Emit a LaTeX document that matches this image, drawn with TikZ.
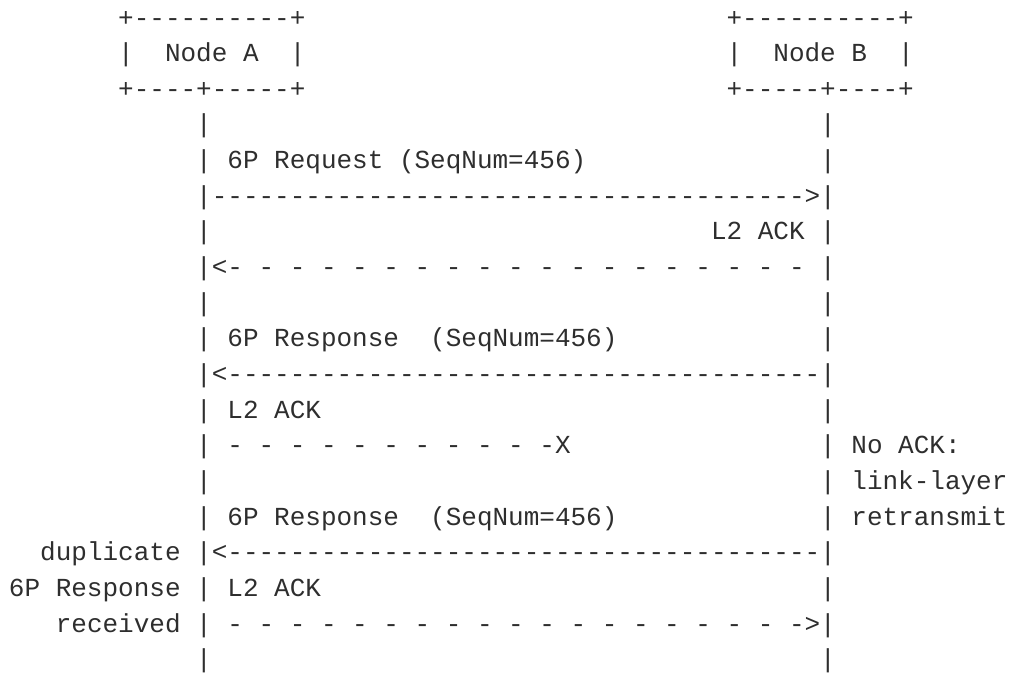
\documentclass[tikz,border=0pt]{standalone}
\usepackage{fontspec}
\newfontfamily\asciifont{Liberation Mono}
\begin{document}
\frenchspacing
\begin{tikzpicture}[x=1pt,y=1pt]
\tikzset{ascii/.style={anchor=base west, inner sep=0pt, outer sep=0pt,
  font=\asciifont\fontsize{26}{26}\selectfont, text=black!82}}
\newcommand\asciiseg[4]{\node[ascii] (#1) at ({9+15.6*#3},{-(26+35.65*(#2-1))}) {#4};}
\useasboundingbox (0,0) rectangle (1011,-675);
% row 1-3: node boxes
\asciiseg{atop}{1}{7}{+----------+}
\asciiseg{btop}{1}{46}{+----------+}
\asciiseg{aleft}{2}{7}{|}
\asciiseg{nodea}{2}{10}{Node A}
\asciiseg{aright}{2}{18}{|}
\asciiseg{bleft}{2}{46}{|}
\asciiseg{nodeb}{2}{49}{Node B}
\asciiseg{bright}{2}{57}{|}
\asciiseg{abot}{3}{7}{+----+-----+}
\asciiseg{bbot}{3}{46}{+-----+----+}
% row 4
\asciiseg{l4}{4}{12}{|}
\asciiseg{r4}{4}{52}{|}
% row 5
\asciiseg{l5}{5}{12}{| 6P Request (SeqNum=456)}
\asciiseg{r5}{5}{52}{|}
% row 6
\asciiseg{l6}{6}{12}{|-------------------------------------->|}
% row 7
\asciiseg{l7}{7}{12}{|}
\asciiseg{ack7}{7}{45}{L2 ACK}
\asciiseg{r7}{7}{52}{|}
% row 8
\asciiseg{l8}{8}{12}{|<- - - - - - - - - - - - - - - - - - -}
\asciiseg{r8}{8}{52}{|}
% row 9
\asciiseg{l9}{9}{12}{|}
\asciiseg{r9}{9}{52}{|}
% row 10
\asciiseg{l10}{10}{12}{| 6P Response}
\asciiseg{s10}{10}{27}{(SeqNum=456)}
\asciiseg{r10}{10}{52}{|}
% row 11
\asciiseg{l11}{11}{12}{|<--------------------------------------|}
% row 12
\asciiseg{l12}{12}{12}{| L2 ACK}
\asciiseg{r12}{12}{52}{|}
% row 13
\asciiseg{l13}{13}{12}{| - - - - - - - - - - -X}
\asciiseg{r13}{13}{52}{| No ACK:}
% row 14
\asciiseg{l14}{14}{12}{|}
\asciiseg{r14}{14}{52}{| link-layer}
% row 15
\asciiseg{l15}{15}{12}{| 6P Response}
\asciiseg{s15}{15}{27}{(SeqNum=456)}
\asciiseg{r15}{15}{52}{| retransmit}
% row 16
\asciiseg{l16}{16}{2}{duplicate |<--------------------------------------|}
% row 17
\asciiseg{l17}{17}{0}{6P Response | L2 ACK}
\asciiseg{r17}{17}{52}{|}
% row 18
\asciiseg{l18}{18}{3}{received | - - - - - - - - - - - - - - - - - - ->|}
% row 19
\asciiseg{l19}{19}{12}{|}
\asciiseg{r19}{19}{52}{|}
\end{tikzpicture}
\end{document}
